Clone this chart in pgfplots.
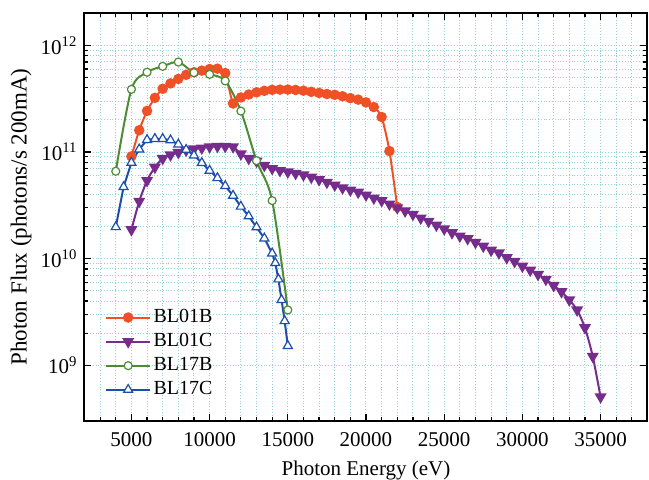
\documentclass[border=0pt]{standalone}
\usepackage{fontspec}
\setmainfont{Liberation Serif}
\usepackage{pgfplots}
\pgfplotsset{compat=1.18}
\usepackage{pgfplotstable}

\definecolor{cBLoneB}{RGB}{240,80,38}
\definecolor{cBLoneC}{RGB}{118,44,140}
\definecolor{cBLsevB}{RGB}{76,140,52}
\definecolor{cBLsevC}{RGB}{28,78,170}
\definecolor{gridc}{RGB}{150,208,218}

% Photon flux per beamline: energy (eV), flux (photons/s 200mA)
\pgfplotstableread{
E F
5000 9.1e10
5500 1.6e11
6000 2.43e11
6500 3.22e11
7000 3.92e11
7500 4.4e11
8000 4.85e11
8500 5.3e11
9000 5.6e11
9500 5.8e11
10000 6.0e11
10500 6.05e11
11000 5.5e11
11500 2.85e11
12000 3.25e11
12500 3.46e11
13000 3.63e11
13500 3.75e11
14000 3.83e11
14500 3.85e11
15000 3.85e11
15500 3.82e11
16000 3.76e11
16500 3.67e11
17000 3.58e11
17500 3.5e11
18000 3.44e11
18500 3.33e11
19000 3.2e11
19500 3.1e11
20000 2.92e11
20500 2.64e11
21000 2.13e11
21500 1.02e11
22000 3.05e10
}\tblOneB

\pgfplotstableread{
E F
5000 1.87e10
5500 3.45e10
6000 5.4e10
6500 7.2e10
7000 8.7e10
7500 9.4e10
8000 9.9e10
8500 1.04e11
9000 1.07e11
9500 1.09e11
10000 1.12e11
10500 1.13e11
11000 1.13e11
11500 1.12e11
12000 9.6e10
12500 8.7e10
13000 8.2e10
13500 7.5e10
14000 7.0e10
14500 6.7e10
15000 6.5e10
15500 6.3e10
16000 6.1e10
16500 5.8e10
17000 5.5e10
17500 5.2e10
18000 4.9e10
18500 4.6e10
19000 4.4e10
19500 4.2e10
20000 3.95e10
20500 3.7e10
21000 3.5e10
21500 3.25e10
22000 3.0e10
22500 2.8e10
23000 2.6e10
23500 2.4e10
24000 2.24e10
24500 2.06e10
25000 1.9e10
25500 1.75e10
26000 1.63e10
26500 1.54e10
27000 1.42e10
27500 1.31e10
28000 1.2e10
28500 1.13e10
29000 1.02e10
29500 9.4e9
30000 8.5e9
30500 7.8e9
31000 7.1e9
31500 6.4e9
32000 5.6e9
32500 4.9e9
33000 4.1e9
33500 3.3e9
34000 2.25e9
34500 1.21e9
35000 5.05e8
}\tblOneC

\pgfplotstableread{
E F
4000 6.6e10
5000 3.87e11
6000 5.6e11
7000 6.36e11
8000 6.98e11
9000 5.55e11
10000 5.35e11
11000 4.64e11
12000 2.42e11
13000 8.3e10
14000 3.5e10
15000 3.3e9
}\tblSevB

\pgfplotstableread{
E F
4000 1.98e10
4500 4.7e10
5000 7.95e10
5500 1.06e11
6000 1.3e11
6500 1.33e11
7000 1.33e11
7500 1.29e11
8000 1.18e11
8500 1.05e11
9000 9.3e10
9500 7.9e10
10000 6.7e10
10500 5.7e10
11000 4.8e10
11500 3.9e10
12000 3.08e10
12500 2.5e10
13000 1.97e10
13500 1.55e10
14000 1.12e10
14200 9.1e9
14400 6.4e9
14600 4.1e9
14800 2.6e9
15000 1.52e9
}\tblSevC

\begin{document}
\begin{tikzpicture}
\useasboundingbox (-42.25pt,-29pt) rectangle (282.25pt,210.5pt);
\begin{axis}[
  scale only axis,
  width=281.5pt, height=203.85pt,
  xmin=2000, xmax=38000,
  ymode=log, ymin=3e8, ymax=2e12,
  xtick={5000,10000,...,35000},
  xticklabels={5000,10000,15000,20000,25000,30000,35000},
  minor xtick={2000,3000,...,38000},
  ytick={1e9,1e10,1e11,1e12},
  yticklabels={10\textsuperscript{9},10\textsuperscript{10},10\textsuperscript{11},10\textsuperscript{12}},
  scaled x ticks=false,
  ticklabel style={font=\fontsize{10.5}{12}\selectfont},
  xticklabel style={yshift=-2pt},
  tick align=inside,
  major tick length=3.5pt, minor tick length=2pt,
  every tick/.style={black, line width=0.6pt},
  axis line style={line width=1pt},
  grid=both,
  major grid style={gridc, densely dotted, line width=0.5pt},
  minor grid style={gridc, densely dotted, line width=0.5pt},
  xlabel={Photon Energy (eV)},
  ylabel={Photon Flux (photons/s 200mA)},
  every axis x label/.style={at={(axis description cs:0.5,-0.1202)}, anchor=center, font=\fontsize{10.5}{12}\selectfont},
  every axis y label/.style={at={(axis description cs:-0.1128,0.5)}, rotate=90, anchor=center, font=\fontsize{11.5}{13}\selectfont},
  legend cell align=left,
  legend style={at={(axis description cs:0.036,0.05)}, anchor=south west,
    draw=none, fill=none, inner sep=0pt, row sep=1.5pt,
    nodes={inner sep=1.2pt},
    font=\fontsize{10}{12}\selectfont},
  legend image code/.code={\draw[mark repeat=2,mark phase=2,#1] plot coordinates {(0pt,0pt) (11pt,0pt) (22pt,0pt)};},
]
\addplot[cBLoneB, line width=1pt, smooth, tension=0.4, mark=*, mark size=2.1pt,
  mark options={fill=cBLoneB, draw=cBLoneB}] table[x=E,y=F] {\tblOneB};
\addlegendentry{BL01B}
\addplot[cBLoneC, line width=1pt, smooth, tension=0.4, mark=triangle*, mark size=2.5pt,
  mark options={rotate=180, fill=cBLoneC, draw=cBLoneC}] table[x=E,y=F] {\tblOneC};
\addlegendentry{BL01C}
\addplot[cBLsevB, line width=1pt, smooth, mark=*, mark size=2.0pt,
  mark options={fill=white, draw=cBLsevB, line width=0.6pt}] table[x=E,y=F] {\tblSevB};
\addlegendentry{BL17B}
\addplot[cBLsevC, line width=1pt, mark=triangle*, mark size=2.6pt,
  mark options={fill=white, draw=cBLsevC, line width=0.6pt}] table[x=E,y=F] {\tblSevC};
\addlegendentry{BL17C}
\end{axis}
\end{tikzpicture}
\end{document}
